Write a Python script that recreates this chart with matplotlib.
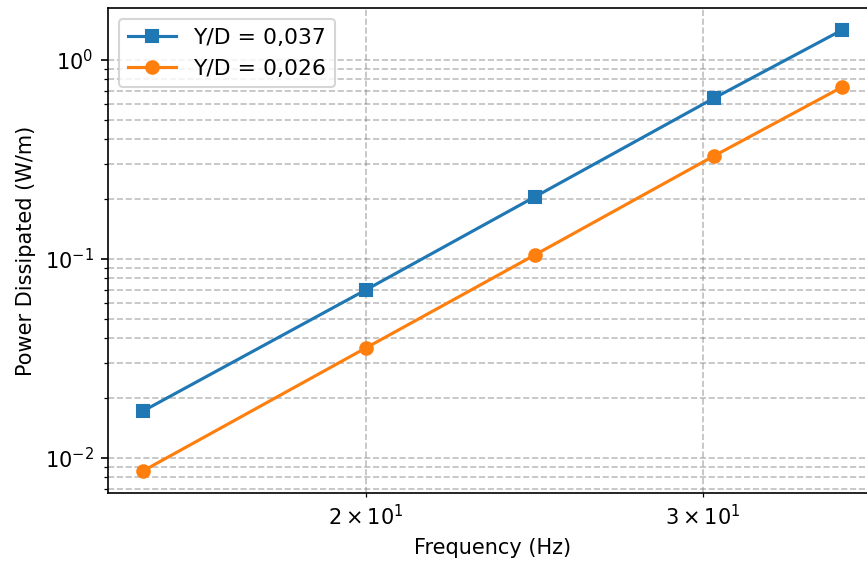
import matplotlib
matplotlib.use('Agg')
import matplotlib.pyplot as plt
import numpy as np

freq = [15.3, 20.0, 24.5, 30.4, 35.45]
power_037 = [0.0172, 0.0699, 0.205, 0.644, 1.415]
power_026 = [0.0086, 0.0357, 0.1047, 0.330, 0.731]

dpi = 150
fig = plt.figure(figsize=(867/dpi, 562/dpi), dpi=dpi)
ax = fig.add_axes([108/867, 1 - 493/562, (877-108)/867, (493-8)/562])

ax.loglog(freq, power_037, marker='s', label='Y/D = 0,037')
ax.loglog(freq, power_026, marker='o', label='Y/D = 0,026')

ax.grid(True, which='both', ls='--', color='gray', alpha=0.5)
ax.set_xlabel('Frequency (Hz)')
ax.set_ylabel('Power Dissipated (W/m)')
ax.legend(loc='upper left', fontsize=10.5, handlelength=2.2)

fig.savefig('out.png', dpi=dpi)
